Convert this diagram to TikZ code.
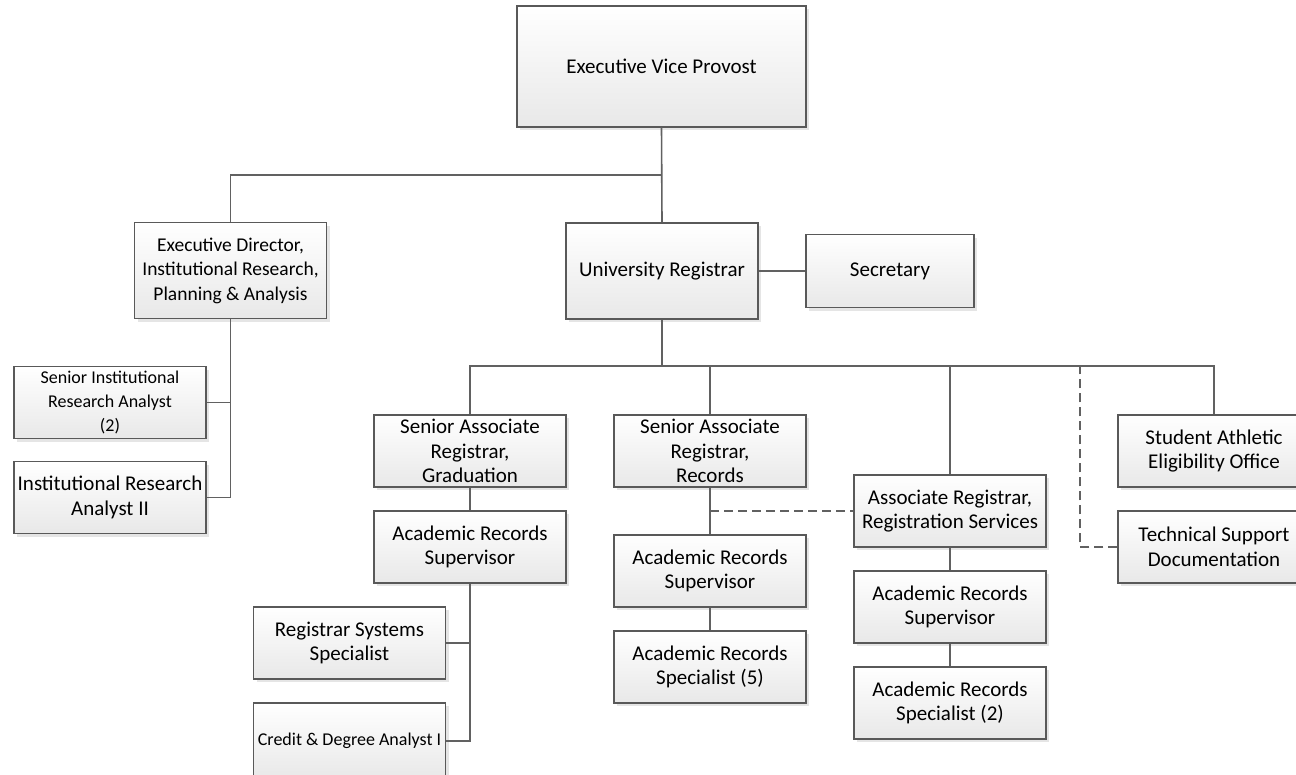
\documentclass[tikz,border=0pt]{standalone}
\usepackage{fontspec}
\setmainfont{Carlito}
\usetikzlibrary{shadows}

\tikzset{
	post/.style={shape=rectangle, draw=black!65, line width=1.2pt,
		top color=white, bottom color=black!9, inner sep=2pt,
		minimum width=192pt, minimum height=72pt, align=center,
		font=\fontsize{21}{24.5}\selectfont,
		copy shadow={shadow xshift=3pt, shadow yshift=-3pt, fill=black!10, draw=none}},
	small/.style={font=\fontsize{18}{24}\selectfont},
	line/.style={draw=black!62, line width=1.6pt},
	dashline/.style={line, dash pattern=on 9pt off 5pt},
}

\begin{document}
\begin{tikzpicture}[x=1pt, y=-1pt]
	\useasboundingbox (0,0) rectangle (1296,774);

	\node[post, minimum width=289pt, minimum height=121pt] (evp) at (661.5, 66.5) {Executive Vice Provost};

	\node[post, minimum height=96pt, font=\fontsize{19.5}{24.5}\selectfont] (ed)  at (230.5, 270.5) {Executive Director,\\Institutional Research,\\Planning \& Analysis};
	\node[post, minimum height=96pt] (ur)  at (662, 271)     {University Registrar};
	\node[post, minimum width=168pt, minimum height=73pt] (sec) at (890, 271) {Secretary};

	\node[post, small] (sira) at (110, 402.5) {Senior Institutional\\Research Analyst\\(2)};
	\node[post] (ira) at (110, 497.5)         {Institutional Research\\Analyst II};

	\node[post] (sarg) at (470, 451)   {Senior Associate\\Registrar,\\Graduation};
	\node[post] (arsg) at (470, 547)   {Academic Records\\Supervisor};
	\node[post] (rss)  at (349.5, 643) {Registrar Systems\\Specialist};
	\node[post, small, minimum height=76pt] (cda) at (349.5, 741) {Credit \& Degree Analyst I};

	\node[post] (sarr) at (710, 451) {Senior Associate\\Registrar,\\Records};
	\node[post] (arsr) at (710, 571) {Academic Records\\Supervisor};
	\node[post] (ars5) at (710, 667) {Academic Records\\Specialist (5)};

	\node[post] (arr)  at (950, 511) {Associate Registrar,\\Registration Services};
	\node[post] (arsa) at (950, 607) {Academic Records\\Supervisor};
	\node[post] (ars2) at (950, 703) {Academic Records\\Specialist (2)};

	\node[post] (saeo) at (1214, 451) {Student Athletic\\Eligibility Office};
	\node[post] (tsd)  at (1214, 547) {Technical Support\\Documentation};

	\coordinate (split) at (662, 175);
	\coordinate (bus)   at (662, 366);
	\coordinate (dot)   at (1080, 366);
	\coordinate (rec)   at (710, 511);

	\draw[line] (evp.south) -- (ur.north);
	\draw[line] (split) -| (ed.north);
	\draw[line] (ur) -- (sec);
	\draw[line] (ur.south) -- (bus);
	\draw[line] (sarg.north) |- (saeo.north |- bus) -- (saeo.north);
	\draw[line] (sarr.north |- bus) -- (sarr.north);
	\draw[line] (arr.north |- bus) -- (arr.north);
	\draw[dashline] (tsd.west) -| (dot);
	\draw[dashline] (rec) -- (arr.west);

	\draw[line] (ed.south) |- (ira.east);
	\draw[line] (sira.east) -- (ed.south |- sira.east);

	\draw[line] (sarg) -- (arsg);
	\draw[line] (arsg.south) |- (cda.east);
	\draw[line] (rss.east) -- (arsg.south |- rss.east);

	\draw[line] (sarr) -- (arsr);
	\draw[line] (arsr) -- (ars5);

	\draw[line] (arr) -- (arsa);
	\draw[line] (arsa) -- (ars2);
\end{tikzpicture}
\end{document}
